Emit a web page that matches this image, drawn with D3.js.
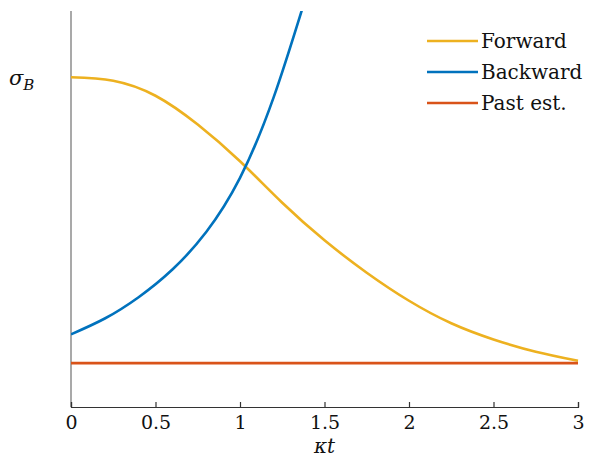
<!DOCTYPE html>
<html>
<head>
<meta charset="utf-8">
<script src="https://cdn.jsdelivr.net/npm/d3@7"></script>
<style>
  body { margin: 0; background: #fff; }
  svg text { font-family: "DejaVu Serif", "Liberation Serif", serif; }
</style>
</head>
<body>
<div id="chart"></div>
<script>
// values (sigma_B in arbitrary units)
var tForward = [0, 0.25, 0.5, 0.75, 1.0, 1.25, 1.5, 1.75, 2.0, 2.25, 2.5, 2.75, 3.0];
var forward = [8.35, 8.26, 7.88, 7.15, 6.22, 5.17, 4.22, 3.40, 2.69, 2.12, 1.71, 1.40, 1.17];

var tBackward = [0, 0.2, 0.4, 0.6, 0.8, 1.0, 1.2, 1.4];
var backward = [1.84, 2.24, 2.78, 3.48, 4.43, 5.80, 7.85, 10.52];

var tPast = [0, 3];
var pastEst = [1.11, 1.11];

var xTicks = [0, 0.5, 1, 1.5, 2, 2.5, 3];
var seriesNames = ["Forward", "Backward", "Past est."];
var seriesColors = ["#EDB120", "#0072BD", "#D95319"];

var w = 589;
var h = 458;

var x = d3.scaleLinear().domain([0, 3]).range([71, 578]);
var y = d3.scaleLinear().domain([0, 10]).range([407, 12]);

var svg = d3.select("#chart")
            .append("svg")
            .attr("width", w)
            .attr("height", h);

svg.append("defs").append("clipPath")
   .attr("id", "plotclip")
   .append("rect")
   .attr("x", 71).attr("y", 11)
   .attr("width", 510).attr("height", 396);

// y axis: plain grey line, no ticks
svg.append("line")
   .attr("x1", 71).attr("x2", 71)
   .attr("y1", 11).attr("y2", 407)
   .attr("stroke", "#8c8c8c")
   .attr("stroke-width", 1.5);

// x axis
var xAxis = d3.axisBottom(x)
    .tickValues(xTicks)
    .tickSize(-5)
    .tickPadding(9)
    .tickFormat(d3.format("~g"));

var gx = svg.append("g")
   .attr("transform", "translate(0,407)")
   .call(xAxis);
gx.select(".domain").attr("stroke", "#333").attr("stroke-width", 1.2);
gx.selectAll(".tick line").attr("stroke", "#333").attr("stroke-width", 1.2);
gx.selectAll(".tick text")
  .attr("font-family", "'DejaVu Serif', serif")
  .attr("font-size", 19)
  .attr("fill", "#111");

svg.append("text")
   .attr("x", x(1.5))
   .attr("y", 453)
   .attr("text-anchor", "middle")
   .attr("font-size", 20)
   .attr("font-style", "italic")
   .attr("fill", "#111")
   .text("κt");

// y label
var yl = svg.append("text")
   .attr("x", 9)
   .attr("y", 85)
   .attr("font-size", 21)
   .attr("font-style", "italic")
   .attr("fill", "#111");
yl.append("tspan").text("σ");
yl.append("tspan").attr("dy", 5).attr("font-size", 15).text("B");

var line = d3.line()
    .x(function (d) { return x(d[0]); })
    .y(function (d) { return y(d[1]); })
    .curve(d3.curveNatural);

var curves = [
    d3.zip(tForward, forward),
    d3.zip(tBackward, backward),
    d3.zip(tPast, pastEst)
];

var plot = svg.append("g").attr("clip-path", "url(#plotclip)");

plot.selectAll("path.series")
   .data(curves)
   .enter()
   .append("path")
   .attr("class", "series")
   .attr("fill", "none")
   .attr("stroke", function (d, i) { return seriesColors[i]; })
   .attr("stroke-width", 2.6)
   .attr("d", line);

// legend
var legend = svg.selectAll("g.legend")
   .data(seriesNames)
   .enter()
   .append("g")
   .attr("class", "legend")
   .attr("transform", function (d, i) { return "translate(427," + (41 + i * 31) + ")"; });

legend.append("line")
   .attr("x1", 0).attr("x2", 51)
   .attr("y1", 0).attr("y2", 0)
   .attr("stroke", function (d, i) { return seriesColors[i]; })
   .attr("stroke-width", 2.6);

legend.append("text")
   .attr("x", 54)
   .attr("y", 7)
   .attr("font-size", 20)
   .attr("fill", "#111")
   .text(function (d) { return d; });
</script>
</body>
</html>
